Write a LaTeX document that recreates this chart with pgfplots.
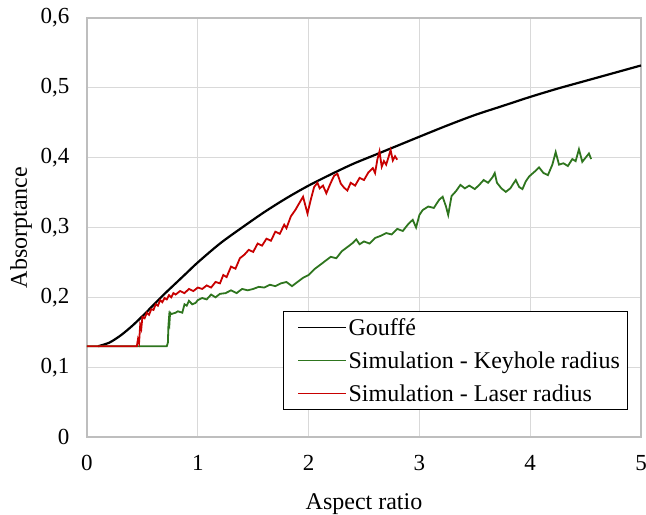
\documentclass[border=0pt]{standalone}
\usepackage{fontspec}
\setmainfont{Liberation Serif}
\usepackage{pgfplots}
\pgfplotsset{compat=1.18}
\pgfplotsset{legend image code/.code={\path (-8bp,0bp); \draw[#1, line width=1.1bp] (0bp,0bp) -- (48bp,0bp);}}

\definecolor{gridgray}{RGB}{217,217,217}
\definecolor{axgray}{RGB}{190,190,190}
\definecolor{simgreen}{RGB}{46,117,30}
\definecolor{simred}{RGB}{200,0,0}

\begin{document}
\begin{tikzpicture}
\begin{axis}[
    scale only axis,
    width=554bp, height=419bp,
    xmin=0, xmax=5, ymin=0, ymax=0.6,
    xtick={0,1,2,3,4,5},
    ytick={0,0.1,0.2,0.3,0.4,0.5,0.6},
    grid=major,
    major grid style={gridgray, line width=1.2bp},
    axis line style={axgray, line width=1.2bp},
    major tick length=0pt,
    /pgf/number format/assume math mode=true,
    /pgf/number format/use comma,
    /pgf/number format/fixed,
    /pgf/number format/precision=1,
    tick label style={font=\fontsize{23bp}{27bp}\selectfont},
    yticklabel style={xshift=-14bp},
    xticklabel style={yshift=-15bp},
    xlabel={Aspect ratio},
    ylabel={Absorptance},
    label style={font=\fontsize{24bp}{28bp}\selectfont},
    xlabel style={yshift=-16bp},
    ylabel style={yshift=2bp},
    legend cell align=left,
    legend style={
        at={(0.977,0.064)}, anchor=south east,
        draw=black, line width=0.8bp,
        font=\fontsize{24bp}{28bp}\selectfont,
        row sep=11bp, inner xsep=6bp, inner ysep=5bp,
    },
]
\addplot[draw=black, line width=2.2bp, smooth] coordinates {
(0.1,0.13)(0.2,0.135)(0.3,0.145)(0.4,0.158)(0.5,0.173)(0.6,0.189)(0.7,0.205)
(0.8,0.22)(0.9,0.235)(1.0,0.25)(1.2,0.277)(1.4,0.3)(1.6,0.322)(1.8,0.342)
(2.0,0.36)(2.2,0.376)(2.4,0.391)(2.6,0.404)(2.8,0.417)(3.0,0.43)(3.25,0.446)
(3.5,0.461)(3.75,0.474)(4.0,0.487)(4.25,0.499)(4.5,0.51)(4.75,0.521)(5.0,0.532)
};
\addlegendentry{Gouffé}
\addplot[draw=simgreen, line width=1.8bp] coordinates {
(0,0.13)(0.72,0.13)(0.73,0.135)(0.735,0.16)(0.74,0.17)(0.745,0.165)(0.75,0.178)
(0.76,0.176)(0.8,0.178)(0.82,0.18)(0.86,0.178)(0.88,0.19)(0.9,0.188)(0.92,0.195)
(0.95,0.19)(0.98,0.192)(1.0,0.196)(1.04,0.199)(1.08,0.197)(1.12,0.204)(1.16,0.2)
(1.2,0.205)(1.25,0.206)(1.3,0.21)(1.35,0.206)(1.4,0.212)(1.45,0.21)(1.5,0.212)
(1.55,0.215)(1.6,0.214)(1.65,0.218)(1.7,0.216)(1.75,0.22)(1.8,0.222)(1.85,0.216)
(1.9,0.222)(1.95,0.228)(2.0,0.232)(2.05,0.24)(2.1,0.246)(2.15,0.252)(2.2,0.258)
(2.25,0.256)(2.3,0.266)(2.35,0.272)(2.4,0.278)(2.43,0.283)(2.46,0.276)(2.5,0.28)
(2.55,0.277)(2.6,0.285)(2.65,0.288)(2.7,0.292)(2.75,0.29)(2.8,0.298)(2.85,0.295)
(2.9,0.305)(2.94,0.311)(2.97,0.3)(3.0,0.318)(3.03,0.325)(3.08,0.33)(3.13,0.328)
(3.18,0.34)(3.21,0.344)(3.24,0.33)(3.26,0.318)(3.29,0.345)(3.33,0.352)(3.37,0.361)
(3.41,0.356)(3.45,0.36)(3.5,0.355)(3.54,0.361)(3.58,0.368)(3.62,0.364)(3.66,0.372)
(3.68,0.378)(3.7,0.364)(3.74,0.356)(3.78,0.351)(3.82,0.356)(3.87,0.368)(3.9,0.358)
(3.93,0.355)(3.96,0.366)(3.99,0.373)(4.04,0.38)(4.08,0.386)(4.12,0.378)(4.16,0.375)
(4.2,0.39)(4.23,0.408)(4.26,0.39)(4.3,0.392)(4.34,0.388)(4.38,0.398)(4.41,0.395)
(4.44,0.412)(4.47,0.394)(4.5,0.4)(4.53,0.406)(4.55,0.398)
};
\addlegendentry{Simulation - Keyhole radius}
\addplot[draw=simred, line width=1.8bp] coordinates {
(0,0.13)(0.45,0.13)(0.46,0.14)(0.47,0.135)(0.48,0.16)(0.49,0.155)(0.5,0.172)
(0.52,0.17)(0.54,0.178)(0.56,0.175)(0.58,0.183)(0.6,0.182)(0.62,0.19)(0.64,0.188)
(0.66,0.196)(0.68,0.193)(0.7,0.199)(0.72,0.197)(0.74,0.203)(0.76,0.2)(0.78,0.206)
(0.8,0.204)(0.84,0.209)(0.88,0.206)(0.92,0.212)(0.96,0.209)(1.0,0.214)(1.04,0.212)
(1.08,0.217)(1.12,0.214)(1.16,0.222)(1.2,0.22)(1.23,0.232)(1.26,0.229)(1.3,0.244)
(1.34,0.241)(1.38,0.256)(1.42,0.261)(1.46,0.268)(1.5,0.265)(1.54,0.277)(1.58,0.274)
(1.62,0.284)(1.66,0.281)(1.7,0.294)(1.74,0.291)(1.78,0.304)(1.8,0.299)(1.84,0.316)
(1.88,0.325)(1.92,0.336)(1.95,0.344)(1.97,0.332)(1.99,0.32)(2.02,0.34)(2.05,0.358)
(2.08,0.364)(2.1,0.356)(2.13,0.36)(2.16,0.349)(2.2,0.364)(2.23,0.374)(2.26,0.377)
(2.29,0.363)(2.32,0.357)(2.35,0.353)(2.38,0.364)(2.42,0.36)(2.46,0.371)(2.5,0.368)
(2.54,0.379)(2.58,0.385)(2.6,0.378)(2.62,0.397)(2.64,0.409)(2.66,0.387)(2.68,0.395)
(2.7,0.39)(2.72,0.4)(2.74,0.411)(2.76,0.396)(2.78,0.402)(2.8,0.397)
};
\addlegendentry{Simulation - Laser radius}
\end{axis}
\pgfresetboundingbox
\useasboundingbox ([shift={(-87bp,-78bp)}]current axis.south west) rectangle ([shift={(5bp,18bp)}]current axis.north east);
\end{tikzpicture}
\end{document}
